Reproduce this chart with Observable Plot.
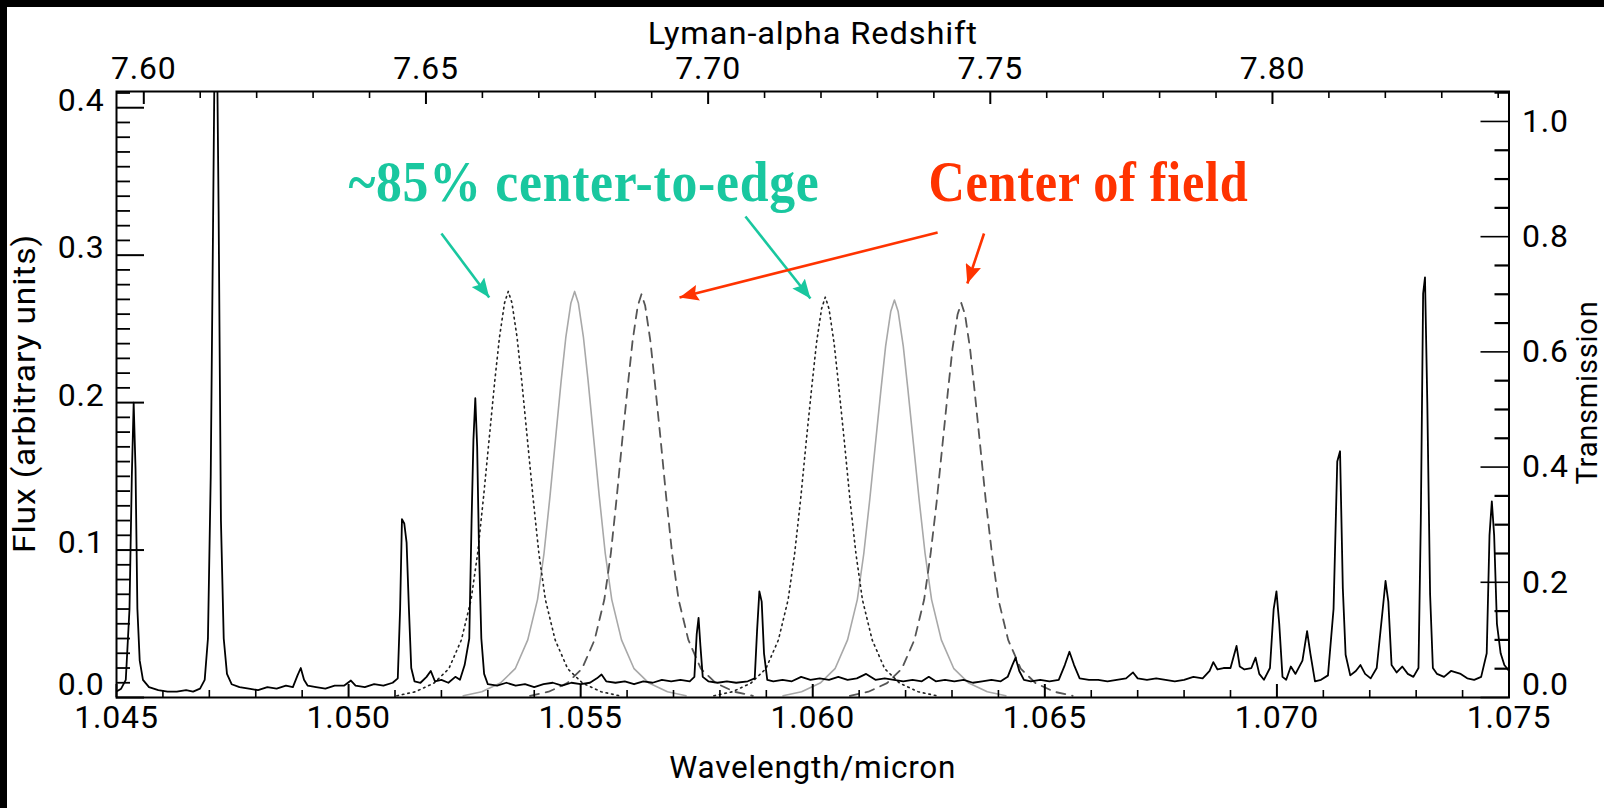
<!DOCTYPE html>
<html>
<head>
<meta charset="utf-8">
<script src="https://cdn.jsdelivr.net/npm/d3@7"></script>
<script src="https://cdn.jsdelivr.net/npm/@observablehq/plot@0.6"></script>
<style>
  html, body { margin: 0; padding: 0; background: #fff; }
  #wrap { position: relative; width: 1604px; height: 808px; overflow: hidden; }
  #wrap svg { position: absolute; left: 0; top: 0; }
  .bandTop { position: absolute; left: 0; top: 0; width: 1604px; height: 7px; background: #000; }
  .bandLeft { position: absolute; left: 0; top: 0; width: 7px; height: 808px; background: #000; }
</style>
</head>
<body>
<div id="wrap"></div>
<script>
// ---------------- data ----------------
const LYA = 0.12158; // micron, used for redshift axis

const xTicks = [1.045, 1.050, 1.055, 1.060, 1.065, 1.070, 1.075];
const xTickLabels = ["1.045", "1.050", "1.055", "1.060", "1.065", "1.070", "1.075"];
const zTicks = [7.60, 7.65, 7.70, 7.75, 7.80];
const zTickLabels = ["7.60", "7.65", "7.70", "7.75", "7.80"];
const fluxTicks = [0.0, 0.1, 0.2, 0.3, 0.4];
const fluxTickLabels = ["0.0", "0.1", "0.2", "0.3", "0.4"];
const transTicks = [0.0, 0.2, 0.4, 0.6, 0.8, 1.0];
const transTickLabels = ["0.0", "0.2", "0.4", "0.6", "0.8", "1.0"];

const titles = {
  x: "Wavelength/micron",
  xTop: "Lyman-alpha Redshift",
  y: "Flux (arbitrary units)",
  yRight: "Transmission"
};

const fluxMax = 0.411;   // top of left axis
const transMax = 1.052;  // top of right axis

// spectrum: [wavelength (micron), flux]
const spectrum = [
[1.04500,0.004],[1.04510,0.006],[1.04520,0.012],[1.04528,0.060],[1.04533,0.150],[1.04537,0.200],
[1.04541,0.155],[1.04545,0.060],[1.04550,0.025],[1.04557,0.012],[1.04570,0.007],[1.04590,0.005],
[1.04610,0.004],[1.04630,0.004],[1.04650,0.005],[1.04665,0.004],[1.04680,0.006],[1.04690,0.012],
[1.04697,0.040],[1.04703,0.150],[1.04708,0.320],[1.04712,0.460],[1.04716,0.460],[1.04720,0.330],
[1.04725,0.120],[1.04731,0.040],[1.04738,0.016],[1.04748,0.009],[1.04765,0.007],[1.04785,0.006],
[1.04805,0.005],[1.04825,0.007],[1.04845,0.006],[1.04865,0.008],[1.04880,0.007],[1.04890,0.015],
[1.04897,0.020],[1.04904,0.012],[1.04912,0.008],[1.04930,0.007],[1.04950,0.006],[1.04970,0.008],
[1.04990,0.008],[1.05005,0.0115],[1.05015,0.008],[1.05035,0.007],[1.05055,0.009],[1.05075,0.008],
[1.05095,0.010],[1.05106,0.013],[1.05111,0.060],[1.05115,0.121],[1.05120,0.118],[1.05125,0.105],
[1.05130,0.060],[1.05135,0.020],[1.05142,0.011],[1.05155,0.010],[1.05168,0.014],[1.05177,0.018],
[1.05186,0.011],[1.05200,0.012],[1.05215,0.010],[1.05230,0.014],[1.05240,0.012],[1.05250,0.022],
[1.05260,0.040],[1.05265,0.120],[1.05269,0.175],[1.05273,0.203],[1.05277,0.170],[1.05281,0.100],
[1.05286,0.040],[1.05292,0.016],[1.05300,0.009],[1.05320,0.008],[1.05340,0.010],[1.05360,0.008],
[1.05380,0.009],[1.05400,0.007],[1.05420,0.009],[1.05440,0.010],[1.05460,0.008],[1.05480,0.010],
[1.05500,0.009],[1.05520,0.010],[1.05535,0.013],[1.05545,0.0156],[1.05555,0.011],[1.05575,0.010],
[1.05595,0.011],[1.05615,0.009],[1.05635,0.011],[1.05655,0.010],[1.05675,0.012],[1.05695,0.011],
[1.05715,0.012],[1.05735,0.011],[1.05745,0.014],[1.05750,0.043],[1.05754,0.054],[1.05758,0.035],
[1.05763,0.014],[1.05775,0.011],[1.05795,0.010],[1.05815,0.011],[1.05835,0.010],[1.05860,0.011],
[1.05875,0.013],[1.05880,0.045],[1.05885,0.072],[1.05890,0.065],[1.05895,0.030],[1.05902,0.012],
[1.05915,0.011],[1.05935,0.012],[1.05955,0.011],[1.05975,0.014],[1.05995,0.012],[1.06015,0.013],
[1.06035,0.012],[1.06055,0.014],[1.06075,0.012],[1.06095,0.013],[1.06115,0.016],[1.06135,0.012],
[1.06155,0.013],[1.06175,0.012],[1.06195,0.011],[1.06215,0.012],[1.06235,0.011],[1.06250,0.014],
[1.06265,0.011],[1.06285,0.012],[1.06305,0.011],[1.06325,0.012],[1.06345,0.010],[1.06365,0.011],
[1.06385,0.012],[1.06405,0.011],[1.06420,0.014],[1.06430,0.022],[1.06437,0.027],[1.06445,0.018],
[1.06455,0.012],[1.06470,0.011],[1.06490,0.012],[1.06510,0.011],[1.06530,0.012],[1.06543,0.022],
[1.06553,0.031],[1.06563,0.022],[1.06575,0.013],[1.06595,0.012],[1.06615,0.012],[1.06635,0.011],
[1.06655,0.012],[1.06675,0.013],[1.06690,0.017],[1.06700,0.013],[1.06720,0.012],[1.06740,0.013],
[1.06760,0.012],[1.06780,0.011],[1.06800,0.012],[1.06820,0.014],[1.06840,0.013],[1.06855,0.018],
[1.06863,0.024],[1.06872,0.019],[1.06885,0.020],[1.06900,0.020],[1.06913,0.035],[1.06920,0.021],
[1.06930,0.019],[1.06945,0.020],[1.06954,0.027],[1.06962,0.016],[1.06972,0.012],[1.06985,0.020],
[1.06993,0.060],[1.06999,0.072],[1.07005,0.050],[1.07012,0.014],[1.07020,0.012],[1.07030,0.021],
[1.07040,0.016],[1.07055,0.025],[1.07065,0.045],[1.07072,0.030],[1.07082,0.011],[1.07095,0.012],
[1.07110,0.015],[1.07122,0.060],[1.07130,0.160],[1.07136,0.167],[1.07142,0.074],[1.07148,0.029],
[1.07158,0.015],[1.07170,0.018],[1.07180,0.022],[1.07190,0.016],[1.07202,0.013],[1.07215,0.020],
[1.07228,0.060],[1.07234,0.079],[1.07240,0.065],[1.07247,0.022],[1.07258,0.017],[1.07270,0.021],
[1.07282,0.016],[1.07294,0.014],[1.07305,0.020],[1.07310,0.120],[1.07315,0.274],[1.07319,0.285],
[1.07324,0.200],[1.07330,0.070],[1.07336,0.020],[1.07345,0.016],[1.07360,0.014],[1.07375,0.018],
[1.07396,0.016],[1.07410,0.013],[1.07425,0.012],[1.07440,0.014],[1.07452,0.030],[1.07458,0.110],
[1.07463,0.133],[1.07468,0.110],[1.07474,0.050],[1.07482,0.030],[1.07490,0.022],[1.07500,0.018]
];

// filter transmission curves: [wavelength (micron), transmission]
const filterOuterA = [ // dotted, ~85% center-to-edge
[1.05104,0.003],[1.05144,0.010],[1.05184,0.025],[1.05216,0.050],[1.05243,0.100],[1.05264,0.170],
[1.05278,0.250],[1.05291,0.350],[1.05303,0.450],[1.05315,0.550],[1.05325,0.625],[1.05336,0.685],
[1.05344,0.705],[1.05352,0.685],[1.05363,0.625],[1.05373,0.550],[1.05385,0.450],[1.05397,0.350],
[1.05410,0.250],[1.05424,0.170],[1.05445,0.100],[1.05472,0.050],[1.05504,0.025],[1.05544,0.010],
[1.05584,0.003]];
const filterMidA = [ // solid
[1.05247,0.003],[1.05287,0.010],[1.05327,0.025],[1.05359,0.050],[1.05386,0.100],[1.05407,0.170],
[1.05421,0.250],[1.05434,0.350],[1.05446,0.450],[1.05458,0.550],[1.05468,0.625],[1.05479,0.685],
[1.05487,0.705],[1.05495,0.685],[1.05506,0.625],[1.05516,0.550],[1.05528,0.450],[1.05540,0.350],
[1.05553,0.250],[1.05567,0.170],[1.05588,0.100],[1.05615,0.050],[1.05647,0.025],[1.05687,0.010],
[1.05727,0.003]];
const filterCenterA = [ // dashed, center of field
[1.05391,0.003],[1.05431,0.010],[1.05471,0.025],[1.05503,0.050],[1.05530,0.100],[1.05551,0.170],
[1.05565,0.250],[1.05578,0.350],[1.05590,0.450],[1.05602,0.545],[1.05612,0.620],[1.05623,0.680],
[1.05631,0.700],[1.05639,0.680],[1.05650,0.620],[1.05660,0.545],[1.05672,0.450],[1.05684,0.350],
[1.05697,0.250],[1.05711,0.170],[1.05732,0.100],[1.05759,0.050],[1.05791,0.025],[1.05831,0.010],
[1.05871,0.003]];
const filterOuterB = [
[1.05787,0.003],[1.05827,0.010],[1.05867,0.025],[1.05899,0.050],[1.05926,0.100],[1.05947,0.170],
[1.05961,0.250],[1.05974,0.345],[1.05986,0.445],[1.05998,0.540],[1.06008,0.615],[1.06019,0.675],
[1.06027,0.695],[1.06035,0.675],[1.06046,0.615],[1.06056,0.540],[1.06068,0.445],[1.06080,0.345],
[1.06093,0.250],[1.06107,0.170],[1.06128,0.100],[1.06155,0.050],[1.06187,0.025],[1.06227,0.010],
[1.06267,0.003]];
const filterMidB = [
[1.05936,0.003],[1.05976,0.010],[1.06016,0.025],[1.06048,0.050],[1.06075,0.100],[1.06096,0.170],
[1.06110,0.250],[1.06123,0.345],[1.06135,0.440],[1.06147,0.535],[1.06157,0.610],[1.06168,0.670],
[1.06176,0.690],[1.06184,0.670],[1.06195,0.610],[1.06205,0.535],[1.06217,0.440],[1.06229,0.345],
[1.06242,0.250],[1.06256,0.170],[1.06277,0.100],[1.06304,0.050],[1.06336,0.025],[1.06376,0.010],
[1.06416,0.003]];
const filterCenterB = [
[1.06080,0.003],[1.06120,0.010],[1.06160,0.025],[1.06192,0.050],[1.06219,0.100],[1.06240,0.170],
[1.06254,0.250],[1.06267,0.340],[1.06279,0.435],[1.06291,0.530],[1.06301,0.605],[1.06312,0.665],
[1.06320,0.685],[1.06328,0.665],[1.06339,0.605],[1.06349,0.530],[1.06361,0.435],[1.06373,0.340],
[1.06386,0.250],[1.06400,0.170],[1.06421,0.100],[1.06448,0.050],[1.06480,0.025],[1.06520,0.010],
[1.06560,0.003]];

// annotations (data coordinates: wavelength, flux)
const annotationTexts = [
  {x: 1.05507, y: 0.3364, text: "~85% center-to-edge", color: "#19c79f"},
  {x: 1.06594, y: 0.3364, text: "Center of field", color: "#ff3300"}
];
const annotationArrows = [
  {x1: 1.05200, y1: 0.3147, x2: 1.05303, y2: 0.2713, color: "#19c79f"},
  {x1: 1.05855, y1: 0.3262, x2: 1.05995, y2: 0.2706, color: "#19c79f"},
  {x1: 1.06269, y1: 0.3154, x2: 1.05713, y2: 0.2713, color: "#ff3300"},
  {x1: 1.06369, y1: 0.3147, x2: 1.06333, y2: 0.2808, color: "#ff3300"}
];

// ---------------- chart ----------------
const W = 1604, H = 808;
const mL = 116, mR = 95.5, mT = 91, mB = 111;
const plotW = W - mL - mR, plotH = H - mT - mB;
const toFlux = t => t * fluxMax / transMax;
const zToLambda = z => (1 + z) * LYA;
const transPos = transTicks.map(toFlux);

const xMinor = d3.range(1.046, 1.0745, 0.001).filter(v => Math.abs((v - 1.045) / 0.005 - Math.round((v - 1.045) / 0.005)) > 1e-6);
const zMinor = d3.range(7.60, 7.8405, 0.01).filter(v => Math.abs(v / 0.05 - Math.round(v / 0.05)) > 1e-6);
const yMinor = d3.range(0.01, 0.4105, 0.01).filter(v => Math.abs(v / 0.1 - Math.round(v / 0.1)) > 1e-6);
const tMinor = d3.range(0.05, 1.0505, 0.05).filter(v => Math.abs(v / 0.2 - Math.round(v / 0.2)) > 1e-6);

function filledArrow(color) {
  const ns = "http://www.w3.org/2000/svg";
  const m = document.createElementNS(ns, "marker");
  m.setAttribute("viewBox", "-19 -8 19 16");
  m.setAttribute("markerWidth", 19);
  m.setAttribute("markerHeight", 16);
  m.setAttribute("markerUnits", "userSpaceOnUse");
  m.setAttribute("orient", "auto");
  m.setAttribute("fill", color);
  m.setAttribute("stroke", "none");
  const p = document.createElementNS(ns, "path");
  p.setAttribute("d", "M-19,-8L0,0L-19,8L-16,0Z");
  m.appendChild(p);
  return m;
}

const lineOpts = (stroke, dash, sw) => ({
  x: d => d[0], y: d => toFlux(d[1]), stroke, strokeWidth: sw, strokeDasharray: dash, clip: true
});

const chart = Plot.plot({
  width: W, height: H,
  marginLeft: mL, marginRight: mR, marginTop: mT, marginBottom: mB,
  x: {domain: [1.045, 1.075], axis: null},
  y: {domain: [0, fluxMax], axis: null},
  style: {fontFamily: "Roboto, 'Liberation Sans', sans-serif", fontSize: "32px", fontWeight: 400, letterSpacing: "0.8px", background: "transparent", color: "#000", overflow: "visible"},
  marks: [
    // filter transmission curves
    Plot.line(filterMidA, lineOpts("#a8a8a8", null, 1.6)),
    Plot.line(filterMidB, lineOpts("#a8a8a8", null, 1.6)),
    Plot.line(filterCenterA, lineOpts("#555", "9,7", 1.8)),
    Plot.line(filterCenterB, lineOpts("#555", "9,7", 1.8)),
    Plot.line(filterOuterA, lineOpts("#222", "1.6,4", 1.6)),
    Plot.line(filterOuterB, lineOpts("#222", "1.6,4", 1.6)),
    // spectrum
    Plot.line(spectrum, {x: d => d[0], y: d => d[1], stroke: "#000", strokeWidth: 1.8, clip: true}),
    // frame
    Plot.frame({stroke: "#000", strokeWidth: 2}),
    // bottom ticks (inward)
    Plot.tickX(xTicks, {x: d => d, insetTop: plotH - 13, stroke: "#000", strokeWidth: 2}),
    Plot.tickX(xMinor, {x: d => d, insetTop: plotH - 7, stroke: "#000", strokeWidth: 1.6}),
    // top ticks (redshift)
    Plot.tickX(zTicks.map(zToLambda), {x: d => d, insetBottom: plotH - 13, stroke: "#000", strokeWidth: 2}),
    Plot.tickX(zMinor.map(zToLambda), {x: d => d, insetBottom: plotH - 7, stroke: "#000", strokeWidth: 1.6}),
    // left ticks
    Plot.tickY(fluxTicks, {y: d => d, insetRight: plotW - 28, stroke: "#000", strokeWidth: 2}),
    Plot.tickY(yMinor, {y: d => d, insetRight: plotW - 14, stroke: "#000", strokeWidth: 1.8}),
    // right ticks
    Plot.tickY(transPos, {y: d => d, insetLeft: plotW - 28, stroke: "#000", strokeWidth: 1.6}),
    Plot.tickY(tMinor.map(toFlux), {y: d => d, insetLeft: plotW - 14, stroke: "#000", strokeWidth: 2.2}),
    // tick labels
    Plot.axisX(xTicks, {anchor: "bottom", tickSize: 0, tickPadding: 8, tickFormat: d => xTickLabels[xTicks.indexOf(d)], label: null}),
    Plot.axisX(zTicks.map(zToLambda), {anchor: "top", tickSize: 0, tickPadding: 13, tickFormat: (d, i) => zTickLabels[i], label: null}),
    Plot.axisY(fluxTicks.slice(1), {anchor: "left", tickSize: 0, tickPadding: 12, dy: -7, tickFormat: d => fluxTickLabels[fluxTicks.indexOf(d)], label: null}),
    Plot.axisY(fluxTicks.slice(0, 1), {anchor: "left", tickSize: 0, tickPadding: 12, dy: -13, tickFormat: d => fluxTickLabels[fluxTicks.indexOf(d)], label: null}),
    Plot.axisY(transPos.slice(1), {anchor: "right", tickSize: 0, tickPadding: 13, tickFormat: d => transTickLabels[transPos.indexOf(d)], label: null}),
    Plot.axisY(transPos.slice(0, 1), {anchor: "right", tickSize: 0, tickPadding: 13, dy: -13, tickFormat: d => transTickLabels[transPos.indexOf(d)], label: null}),
    // axis titles
    Plot.text([titles.x], {text: d => d, frameAnchor: "bottom", textAnchor: "middle", lineAnchor: "bottom", dy: 80, fontSize: 32, className: "ttl-x"}),
    Plot.text([titles.xTop], {text: d => d, frameAnchor: "top", textAnchor: "middle", lineAnchor: "bottom", dy: -48, fontSize: 31, className: "ttl-top"}),
    Plot.text([titles.y], {text: d => d, frameAnchor: "left", textAnchor: "middle", rotate: -90, lineAnchor: "bottom", dx: -82, dy: -1, fontSize: 32, className: "ttl-y"}),
    Plot.text([titles.yRight], {text: d => d, frameAnchor: "right", textAnchor: "middle", rotate: -90, lineAnchor: "bottom", dx: 88, dy: -2, fontSize: 29, className: "ttl-r"}),
    // annotations
    Plot.link(annotationArrows, {x1: "x1", y1: "y1", x2: "x2", y2: "y2", stroke: "color", strokeWidth: 2.6, markerEnd: filledArrow}),
    Plot.text(annotationTexts, {x: "x", y: "y", text: "text", fill: "color", textAnchor: "middle", lineAnchor: "bottom",
      fontFamily: "'Liberation Serif', 'Times New Roman', serif", fontWeight: "bold", fontSize: 57, className: "annot"})
  ]
});

const wrap = document.getElementById("wrap");
wrap.appendChild(chart);
// match the lettering widths of the original (condensed bold annotations, wide axis-title font)
const fitWidths = [
  [".annot text", {"~85% center-to-edge": 471, "Center of field": 320}],
  [".ttl-x text", {[titles.x]: 287}],
  [".ttl-top text", {[titles.xTop]: 330}],
  [".ttl-y text", {[titles.y]: 319}],
  [".ttl-r text", {[titles.yRight]: 184}]
];
for (const [sel, widths] of fitWidths) {
  chart.querySelectorAll(sel).forEach(node => {
    const w = widths[node.textContent];
    if (w) { node.setAttribute("textLength", w); node.setAttribute("lengthAdjust", "spacingAndGlyphs"); }
  });
}
const t = document.createElement("div"); t.className = "bandTop"; wrap.appendChild(t);
const l = document.createElement("div"); l.className = "bandLeft"; wrap.appendChild(l);
</script>
</body>
</html>
